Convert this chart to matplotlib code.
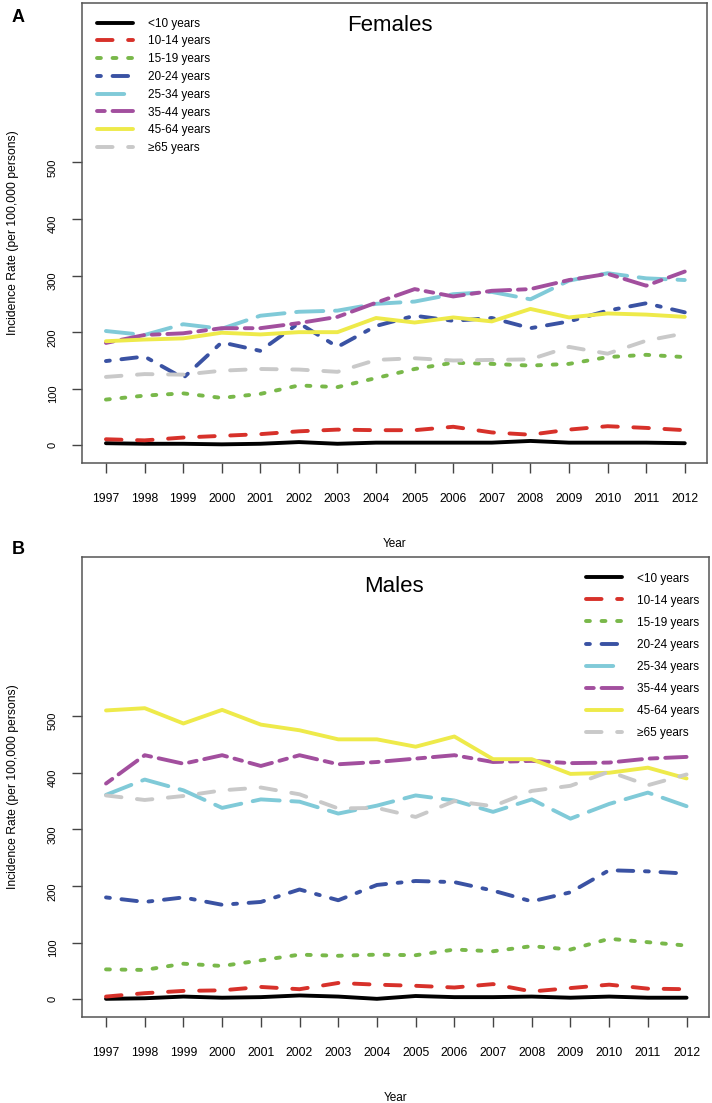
import numpy as np
import matplotlib.pyplot as plt

plt.rcParams['font.family'] = ['Liberation Sans', 'DejaVu Sans']

years = list(range(1997, 2013))
groups = ['<10 years', '10-14 years', '15-19 years', '20-24 years',
          '25-34 years', '35-44 years', '45-64 years', '\u226565 years']

# females, incidence per 100,000
f_lt10 = [4, 3, 3, 2, 3, 6, 3, 5, 5, 5, 5, 8, 5, 5, 5, 4]
f_10_14 = [11, 9, 14, 17, 20, 25, 28, 27, 27, 33, 23, 19, 28, 34, 31, 27]
f_15_19 = [81, 88, 92, 84, 91, 106, 103, 119, 135, 146, 144, 141, 144, 156, 160, 156]
f_20_24 = [149, 157, 119, 182, 167, 216, 174, 211, 229, 220, 225, 207, 219, 238, 251, 235]
f_25_34 = [202, 195, 214, 206, 229, 236, 238, 250, 254, 267, 271, 258, 291, 304, 295, 292]
f_35_44 = [181, 195, 198, 207, 207, 216, 227, 252, 276, 263, 273, 276, 292, 303, 282, 307]
f_45_64 = [184, 187, 189, 199, 196, 200, 200, 225, 217, 226, 219, 241, 226, 233, 231, 227]
f_65 = [121, 126, 125, 132, 135, 134, 130, 151, 154, 150, 151, 152, 174, 162, 185, 198]

# males
m_lt10 = [1, 2, 5, 3, 4, 7, 5, 1, 6, 4, 4, 5, 3, 5, 3, 3]
m_10_14 = [5, 11, 15, 16, 22, 18, 29, 26, 24, 21, 27, 14, 20, 26, 19, 18]
m_15_19 = [53, 52, 63, 59, 69, 79, 77, 79, 78, 88, 85, 94, 88, 107, 101, 95]
m_20_24 = [180, 172, 180, 167, 172, 194, 175, 202, 209, 207, 192, 173, 189, 228, 226, 222]
m_25_34 = [361, 388, 369, 338, 353, 349, 328, 342, 360, 351, 331, 353, 319, 345, 365, 341]
m_35_44 = [381, 431, 416, 431, 412, 431, 415, 419, 425, 431, 419, 421, 417, 418, 425, 428]
m_45_64 = [510, 514, 487, 511, 485, 475, 459, 459, 446, 464, 424, 424, 398, 400, 409, 390]
m_65 = [360, 352, 359, 369, 374, 362, 337, 338, 322, 350, 341, 368, 377, 402, 378, 397]

females = [f_lt10, f_10_14, f_15_19, f_20_24, f_25_34, f_35_44, f_45_64, f_65]
males = [m_lt10, m_10_14, m_15_19, m_20_24, m_25_34, m_35_44, m_45_64, m_65]

colors = ['#000000', '#d7312a', '#79b84a', '#3a52a3', '#80cad8', '#a24f9e', '#eeea4a', '#c9c9c9']
# R-like line types
styles = ['-', (0, (4, 4)), (0, (1, 3)), (0, (1, 3, 4, 3)), (0, (7, 3)),
          (0, (2, 2, 6, 2)), '-', (0, (4, 4))]

fig = plt.figure(figsize=(7.12, 11.03), dpi=100)
axA = fig.add_axes([0.1152, 0.5802, 0.878, 0.4171])
axB = fig.add_axes([0.1152, 0.0780, 0.8806, 0.4171])


def panel(ax, data, title, txy, lxy, lspace):
    for vals, c, ls, lab in zip(data, colors, styles, groups):
        ax.plot(years, vals, color=c, linestyle=ls, lw=2.8, label=lab,
                dash_capstyle='round', solid_capstyle='round')
    ax.set_xlim(1996.38, 2012.58)
    ax.set_ylim(-31, 781)
    ax.set_xticks(years)
    ax.set_yticks([0, 100, 200, 300, 400, 500])
    ax.tick_params(axis='y', labelrotation=90, length=7.5, pad=10,
                   labelsize=8, color='#444444', width=1)
    ax.tick_params(axis='x', length=7.5, pad=14, labelsize=8.8,
                   color='#444444', width=1)
    for s in ax.spines.values():
        s.set_color('#555555')
        s.set_linewidth(1.1)
    ax.set_xlabel('Year', fontsize=8.5, labelpad=24)
    ax.set_ylabel('Incidence Rate (per 100,000 persons)', fontsize=8.7, labelpad=21)
    ax.text(txy[0], txy[1], title, transform=ax.transAxes, fontsize=16,
            ha='center', va='center')
    ax.legend(loc='upper left', bbox_to_anchor=lxy, frameon=False, fontsize=8.5,
              handlelength=3.05, handletextpad=1.3, labelspacing=lspace,
              borderpad=0, borderaxespad=0)


panel(axA, females, 'Females', (0.493, 0.952), (0.024, 0.968), 0.49)
panel(axB, males, 'Males', (0.498, 0.935), (0.804, 0.966), 0.85)

fig.text(18 / 712, 1 - 17 / 1103, 'A', fontsize=13, fontweight='bold', ha='center', va='center')
fig.text(18 / 712, 1 - 549 / 1103, 'B', fontsize=13, fontweight='bold', ha='center', va='center')

fig.savefig('out.png', dpi=100)
